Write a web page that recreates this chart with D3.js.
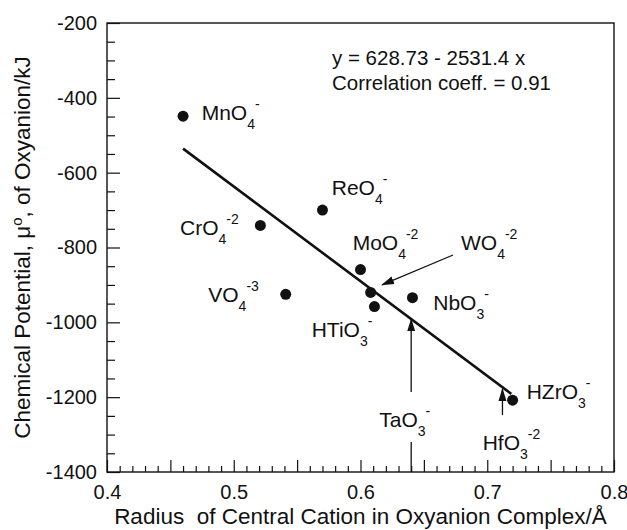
<!DOCTYPE html>
<html>
<head>
<meta charset="utf-8">
<script src="https://cdn.jsdelivr.net/npm/d3@7"></script>
<style>
  body { margin: 0; background: #fff; }
  text { font-family: "Liberation Sans", Arial, sans-serif; fill: #111; }
</style>
</head>
<body>
<script>

// Data
var names   = ["MnO4-", "CrO4-2", "ReO4-", "VO4-3", "MoO4-2", "WO4-2", "HTiO3-", "NbO3-", "HZrO3-"];
var radius  = [0.46, 0.521, 0.57, 0.541, 0.600, 0.608, 0.611, 0.641, 0.720];
var energy  = [-449, -741, -700, -925, -859, -920, -958, -934, -1208];

// regression y = 628.73 - 2531.4 x
var fitA = 628.73, fitB = -2531.4;
var fitRange = [0.46, 0.719];

var xTicks = [0.4, 0.5, 0.6, 0.7, 0.8];
var yTicks = [-1400, -1200, -1000, -800, -600, -400, -200];

// labels: [base, subscript, superscript, x, y] (data units, left/baseline)
var labels = [
  ["MnO", "4", "-", 0.4747, -459],
  ["CrO", "4", "-2", 0.4576, -767],
  ["ReO", "4", "-", 0.5773, -660],
  ["MoO", "4", "-2", 0.5938, -807],
  ["WO", "4", "-2", 0.6793, -807],
  ["VO", "4", "-3", 0.4799, -945],
  ["HTiO", "3", "-", 0.5615, -1039],
  ["NbO", "3", "-", 0.6574, -967],
  ["HZrO", "3", "-", 0.7311, -1206],
  ["TaO", "3", "-", 0.6148, -1279],
  ["HfO", "3", "-2", 0.6964, -1342]
];

// arrows: x1, y1 -> x2, y2 (data units), head at end
var arrows = [
  [0.673, -820, 0.617, -900, true],
  [0.640, -1186, 0.640, -992, true],
  [0.712, -1248, 0.712, -1178, true],
  [0.640, -1320, 0.640, -1400, false]
];

var equation = ["y = 628.73 - 2531.4 x", "Correlation coeff. = 0.91"];

var width = 627, height = 530;
var margin = {top: 23, right: 13, bottom: 58, left: 107};

var svg = d3.select("body").append("svg")
    .attr("width", width)
    .attr("height", height);

var x = d3.scaleLinear().domain([0.4, 0.8]).range([margin.left, width - margin.right]);
var y = d3.scaleLinear().domain([-1400, -200]).range([height - margin.bottom, margin.top]);

var defs = svg.append("defs");
defs.append("marker")
    .attr("id", "head")
    .attr("markerUnits", "userSpaceOnUse")
    .attr("viewBox", "0 -5 13 10")
    .attr("refX", 12).attr("refY", 0)
    .attr("markerWidth", 13).attr("markerHeight", 10)
    .attr("orient", "auto")
  .append("path")
    .attr("d", "M0,-4L13,0L0,4Z")
    .attr("fill", "#111");

var fsTick = 20, fsLab = 21, fsTitle = 22.5, fsEq = 20.5;

// frame
svg.append("rect")
    .attr("x", x(0.4)).attr("y", y(-200))
    .attr("width", x(0.8) - x(0.4))
    .attr("height", y(-1400) - y(-200))
    .attr("fill", "none")
    .attr("stroke", "#111")
    .attr("stroke-width", 1.4);

// y axis: inward ticks, minors every 50
var yAxis = d3.axisRight(y)
    .tickValues(d3.range(-1400, -199, 50))
    .tickSize(0)
    .tickFormat("");
var gy = svg.append("g").attr("transform", "translate(" + x(0.4) + ",0)").call(yAxis);
gy.select(".domain").remove();
gy.selectAll(".tick line")
    .attr("x2", function(d) { return d % 200 === 0 ? 13 : 8; })
    .attr("stroke", "#111").attr("stroke-width", 1.2);

var gyl = svg.append("g").attr("transform", "translate(" + x(0.4) + ",0)")
    .call(d3.axisLeft(y).tickValues(yTicks).tickSize(0).tickPadding(10)
        .tickFormat(function(d) { return String(d); }));
gyl.select(".domain").remove();
gyl.selectAll("text").attr("font-size", fsTick).attr("font-family", null).attr("fill", "#111");

// x axis: upward ticks, minors every 0.01
var gx = svg.append("g").attr("transform", "translate(0," + y(-1400) + ")")
    .call(d3.axisTop(x).tickValues(d3.range(40, 81).map(function(d) { return d / 100; })).tickSize(0).tickFormat(""));
gx.select(".domain").remove();
gx.selectAll(".tick line")
    .attr("y2", function(d) { return Math.round(d * 100) % 5 === 0 ? -12 : -6; })
    .attr("stroke", "#111").attr("stroke-width", 1.2);

var gxl = svg.append("g").attr("transform", "translate(0," + y(-1400) + ")")
    .call(d3.axisBottom(x).tickValues(xTicks).tickSize(0).tickPadding(13).tickFormat(d3.format(".1f")));
gxl.select(".domain").remove();
gxl.selectAll("text").attr("font-size", fsTick).attr("font-family", null).attr("fill", "#111");

// axis titles
svg.append("text")
    .attr("x", (x(0.4) + x(0.8)) / 2)
    .attr("y", 524)
    .attr("text-anchor", "middle")
    .attr("font-size", fsTitle)
    .style("white-space", "pre")
    .text("Radius  of Central Cation in Oxyanion Complex/\u00C5");

var yt = svg.append("text")
    .attr("transform", "translate(30," + (y(-200) + y(-1400)) / 2 + ") rotate(-90)")
    .attr("text-anchor", "middle")
    .attr("font-size", fsTitle);
yt.append("tspan").text("Chemical Potential, \u03BC");
yt.append("tspan").attr("dy", -8).attr("font-size", 15).text("o");
yt.append("tspan").attr("dy", 8).text(", of Oxyanion/kJ");

// regression line
svg.append("line")
    .attr("x1", x(fitRange[0])).attr("y1", y(fitA + fitB * fitRange[0]))
    .attr("x2", x(fitRange[1])).attr("y2", y(fitA + fitB * fitRange[1]))
    .attr("stroke", "#111").attr("stroke-width", 2.6);

// arrows
svg.selectAll(".arrow").data(arrows).enter().append("line")
    .attr("class", "arrow")
    .attr("x1", function(d) { return x(d[0]); })
    .attr("y1", function(d) { return y(d[1]); })
    .attr("x2", function(d) { return x(d[2]); })
    .attr("y2", function(d) { return y(d[3]); })
    .attr("stroke", "#111").attr("stroke-width", 1.3)
    .attr("marker-end", function(d) { return d[4] ? "url(#head)" : null; });

// points
svg.selectAll(".pt").data(names).enter().append("circle")
    .attr("class", "pt")
    .attr("cx", function(d, i) { return x(radius[i]); })
    .attr("cy", function(d, i) { return y(energy[i]); })
    .attr("r", 5.5)
    .attr("fill", "#111");

// point labels with sub/superscripts
labels.forEach(function(l) {
    var t = svg.append("text")
        .attr("x", x(l[3])).attr("y", y(l[4]))
        .attr("font-size", fsLab);
    t.append("tspan").text(l[0]);
    t.append("tspan").attr("dy", 9).attr("font-size", 14).text(l[1]);
    t.append("tspan").attr("dy", -20).attr("font-size", 14).text(l[2]);
});

// equation
svg.selectAll(".eq").data(equation).enter().append("text")
    .attr("class", "eq")
    .attr("x", 332)
    .attr("y", function(d, i) { return 65 + i * 25; })
    .attr("font-size", fsEq)
    .text(function(d) { return d; });

</script>
</body>
</html>
